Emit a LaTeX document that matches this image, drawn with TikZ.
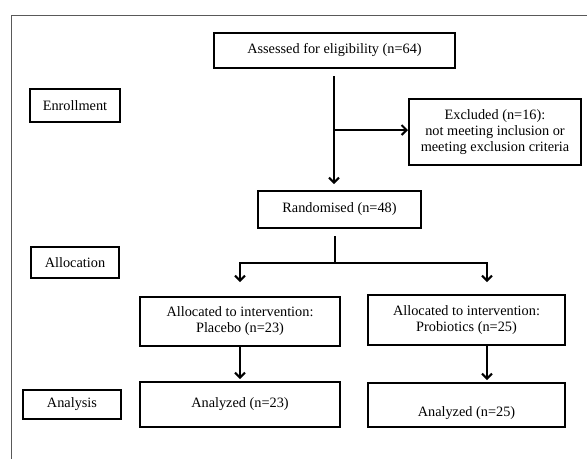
\documentclass[tikz,border=0pt]{standalone}
\usepackage{fontspec}
\setmainfont{Liberation Serif}
\usepackage{xcolor}
\usepackage{tikz}
\usetikzlibrary{arrows.meta, positioning, calc}

\begin{document}
\begin{tikzpicture}[
    x=1pt, y=-1pt,
    box/.style={rectangle, draw, line width=2pt, align=center, inner sep=0pt, font=\fontsize{14.3}{16}\selectfont},
    arrow/.style={line width=2pt, -{Straight Barb[length=5pt, width=10pt, line width=2pt]}},
    line/.style={line width=2pt},
    frame/.style={line width=1pt, draw=black!65}
]
\useasboundingbox (0,0) rectangle (587,459);

% Frame
\draw [frame] (587,15) -- (11,15) -- (11,459);

% Nodes
\node (assess) [box, minimum width=241, minimum height=35] at (334.5,50.5) {Assessed for eligibility (n=64)};
\node (enroll) [box, minimum width=90, minimum height=33] at (75,105.5) {Enrollment};
\node (excl) [box, minimum width=172, minimum height=66] at (495,132) {Excluded (n=16):\\ not meeting inclusion or\\ meeting exclusion criteria};
\node (rand) [box, minimum width=163, minimum height=37] at (339.5,209.5) {Randomised (n=48)};

\node (alloc) [box, minimum width=88, minimum height=31] at (75,262.5) {Allocation};
\node (placebo) [box, minimum width=200, minimum height=49] at (240,321.5) {Allocated to intervention:\\ Placebo (n=23)};
\node (probio) [box, minimum width=197, minimum height=50] at (466.5,320) {Allocated to intervention:\\ Probiotics (n=25)};

\node (analysis) [box, minimum width=98, minimum height=29] at (72,404.5) {Analysis};
\node (anaL) [box, minimum width=200, minimum height=45] at (240,404.5) {Analyzed (n=23)};
\node (anaR) [box, minimum width=197, minimum height=44, text height=26pt, text depth=3pt] at (466.5,405) {Analyzed (n=25)};

\coordinate (split) at (334,130);
\coordinate (fork) at (335,263);
\coordinate (forkR) at (487,263);

% Arrows
\draw [arrow] ($(split |- assess.south)+(0,7)$) -- ($(split |- rand.north)+(0,-6)$);
\draw [arrow] (split) -- (split -| excl.west);

\draw [line] ($(fork |- rand.south)+(0,7)$) -- (fork);
\draw [arrow] (fork) -| ($(placebo.north)+(0,-14)$);
\draw [arrow] (fork) -- (forkR) -- ($(forkR |- probio.north)+(0,-12)$);

\draw [arrow] (placebo) -- ($(anaL.north)+(0,-2)$);
\draw [arrow] (forkR |- probio.south) -- ($(forkR |- anaR.north)+(0,-2)$);

\end{tikzpicture}
\end{document}
